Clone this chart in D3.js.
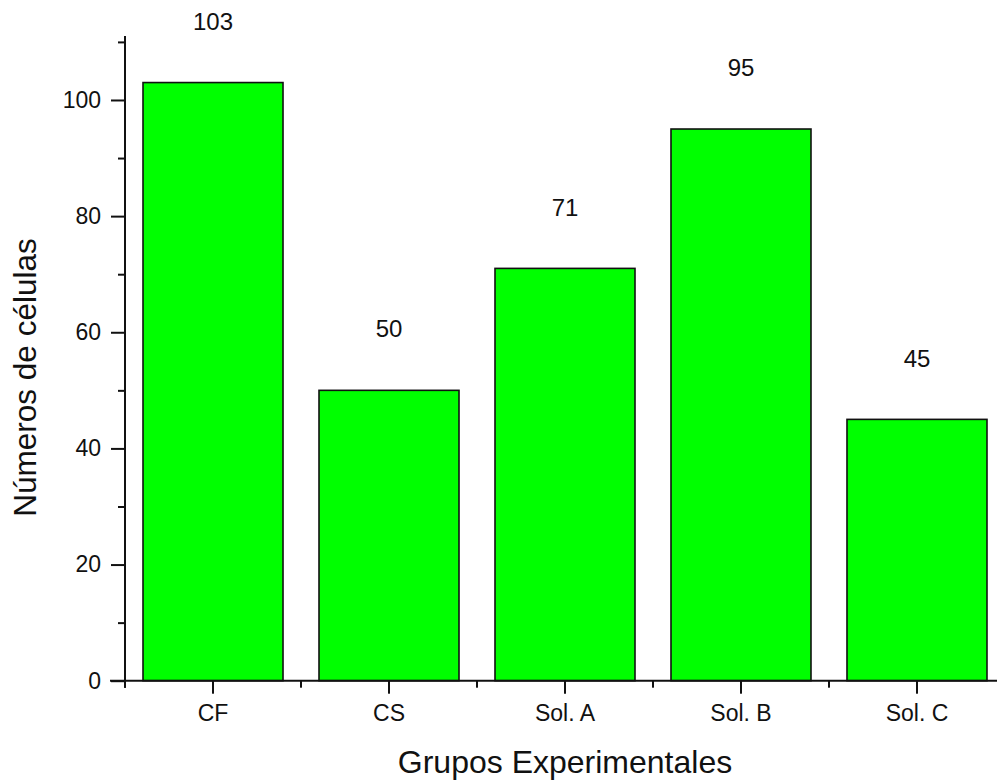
<!DOCTYPE html>
<html>
<head>
<meta charset="utf-8">
<script src="https://cdn.jsdelivr.net/npm/d3@7"></script>
<style>
  html, body { margin: 0; padding: 0; background: #fff; }
  svg { display: block; }
  text { font-family: "Liberation Sans", Arial, Helvetica, sans-serif; fill: #111; }
</style>
</head>
<body>
<svg id="chart" width="997" height="783"></svg>
<script>
const categories = ["CF", "CS", "Sol. A", "Sol. B", "Sol. C"];
const values = [103, 50, 71, 95, 45];
const valueLabels = ["103", "50", "71", "95", "45"];
const majorTicks = [0, 20, 40, 60, 80, 100];
const minorTicks = [10, 30, 50, 70, 90, 110];
const yTitle = "Números de células";
const xTitle = "Grupos Experimentales";

const svg = d3.select("#chart");
const x0 = 125, x1 = 1005;
const yBottom = 680.7, yTop = 36.1;

const x = d3.scaleBand().domain(categories).range([x0, x1])
  .paddingInner(0.2045).paddingOuter(0.1023);
const y = d3.scaleLinear().domain([0, 111]).range([yBottom, yTop]);

// bars
svg.append("g").selectAll("rect").data(values).join("rect")
  .attr("x", (d, i) => x(categories[i]))
  .attr("y", d => y(d))
  .attr("width", x.bandwidth())
  .attr("height", d => y(0) - y(d))
  .attr("fill", "#00ff00")
  .attr("stroke", "#111")
  .attr("stroke-width", 1.6);

// value labels
svg.append("g").selectAll("text").data(values).join("text")
  .attr("x", (d, i) => x(categories[i]) + x.bandwidth() / 2)
  .attr("y", d => y(d + 9.1))
  .attr("text-anchor", "middle")
  .style("font-size", "24px")
  .text((d, i) => valueLabels[i]);

// y axis major
const yAxis = svg.append("g").attr("transform", `translate(${x0},0)`)
  .call(d3.axisLeft(y).tickValues(majorTicks).tickSize(14).tickPadding(10).tickFormat(d3.format("d")));
yAxis.select(".domain").remove();
yAxis.selectAll("line").attr("stroke", "#111").attr("stroke-width", 2);
yAxis.selectAll("text").style("font-size", "23px").attr("fill", "#111");

// y axis minor
const yMinor = svg.append("g").attr("transform", `translate(${x0},0)`)
  .call(d3.axisLeft(y).tickValues(minorTicks).tickSize(7).tickFormat(""));
yMinor.select(".domain").remove();
yMinor.selectAll("line").attr("stroke", "#111").attr("stroke-width", 2);

// y axis line
svg.append("line")
  .attr("x1", x0).attr("x2", x0)
  .attr("y1", y(111)).attr("y2", yBottom + 7)
  .attr("stroke", "#111").attr("stroke-width", 2);

// x axis major (category centers)
const xAxis = svg.append("g").attr("transform", `translate(0,${yBottom})`)
  .call(d3.axisBottom(x).tickSize(13).tickPadding(10));
xAxis.select(".domain").remove();
xAxis.selectAll("line").attr("stroke", "#111").attr("stroke-width", 2);
xAxis.selectAll("text").style("font-size", "23px").attr("fill", "#111").attr("dy", "0.75em");

// x axis minor ticks at band boundaries
const boundaries = categories.map((c, i) => x0 + i * x.step()).concat([x0 + categories.length * x.step()]);
svg.append("g").selectAll("line").data(boundaries).join("line")
  .attr("x1", d => d).attr("x2", d => d)
  .attr("y1", yBottom).attr("y2", yBottom + 7)
  .attr("stroke", "#111").attr("stroke-width", 2);

// x axis line
svg.append("line")
  .attr("x1", x0 - 15).attr("x2", 997)
  .attr("y1", yBottom).attr("y2", yBottom)
  .attr("stroke", "#111").attr("stroke-width", 2);

// titles
svg.append("text")
  .attr("transform", `translate(36,${(238 + 517) / 2}) rotate(-90)`)
  .attr("text-anchor", "middle")
  .style("font-size", "31.5px")
  .text(yTitle);

svg.append("text")
  .attr("x", x("Sol. A") + x.bandwidth() / 2)
  .attr("y", 773)
  .attr("text-anchor", "middle")
  .style("font-size", "32px")
  .text(xTitle);
</script>
</body>
</html>
